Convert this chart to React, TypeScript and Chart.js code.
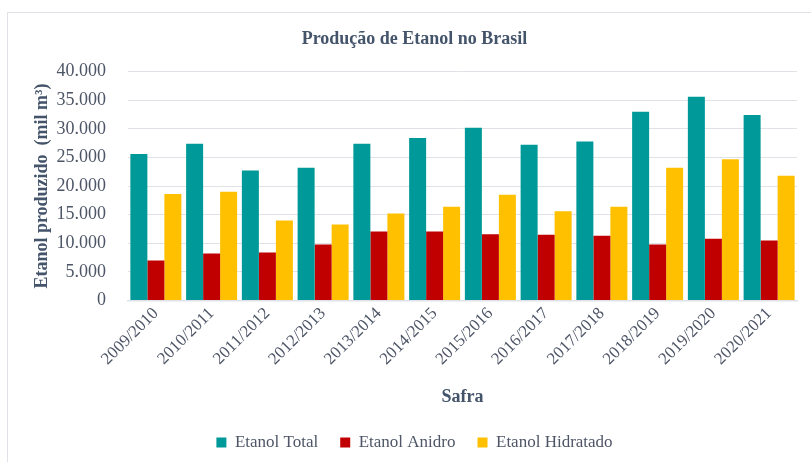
import React, { useEffect, useRef } from "react";
import { Chart, registerables } from "chart.js";

Chart.register(...registerables);

const categories = [
  "2009/2010", "2010/2011", "2011/2012", "2012/2013", "2013/2014", "2014/2015",
  "2015/2016", "2016/2017", "2017/2018", "2018/2019", "2019/2020", "2020/2021",
];
const etanolTotal = [25600, 27400, 22700, 23200, 27400, 28400, 30200, 27200, 27800, 33000, 35600, 32400];
const etanolAnidro = [7000, 8200, 8400, 9800, 12050, 12050, 11600, 11500, 11300, 9800, 10800, 10500];
const etanolHidratado = [18600, 19000, 14000, 13300, 15200, 16400, 18500, 15600, 16400, 23200, 24700, 21800];

const seriesNames = ["Etanol Total", "Etanol Anidro", "Etanol Hidratado"];
const seriesColors = ["#009999", "#C00000", "#FFC000"];

const FONT = "'Liberation Serif', 'Times New Roman', serif";
const TEXT = "#4d5566";
const TITLE = "#44546A";
const GRID = "#dfe2e7";

export default function App() {
  const ref = useRef<HTMLCanvasElement | null>(null);

  useEffect(() => {
    document.body.style.margin = "0";
    document.body.style.overflow = "hidden";
    const ctx = ref.current!;
    const chart = new Chart(ctx, {
      type: "bar",
      data: {
        labels: categories,
        datasets: [etanolTotal, etanolAnidro, etanolHidratado].map((d, i) => ({
          label: seriesNames[i],
          data: d,
          backgroundColor: seriesColors[i],
          borderWidth: 0,
          categoryPercentage: 0.915,
          barPercentage: 1,
        })),
      },
      options: {
        animation: false,
        responsive: false,
        maintainAspectRatio: false,
        layout: { padding: { left: 24, right: 33, top: 8, bottom: 4 } },
        plugins: {
          title: {
            display: true,
            text: "Produção de Etanol no Brasil",
            color: TITLE,
            font: { family: FONT, size: 18, weight: "bold" },
            padding: { top: 8, bottom: 21 },
          },
          legend: {
            position: "bottom",
            labels: {
              color: TEXT,
              font: { family: FONT, size: 17 },
              boxWidth: 10,
              boxHeight: 10,
              padding: 22,
            },
          },
          tooltip: { enabled: false },
        },
        scales: {
          x: {
            grid: { display: false },
            border: { display: true, color: GRID, width: 1.5 },
            ticks: {
              color: TEXT,
              font: { family: FONT, size: 17 },
              maxRotation: 45,
              minRotation: 45,
              padding: -5,
            },
            title: {
              display: true,
              text: "Safra",
              color: TITLE,
              font: { family: FONT, size: 18, weight: "bold" },
              padding: { top: 22, bottom: 4 },
            },
            afterFit: (scale: any) => {
              scale.paddingLeft = 0;
              scale.paddingRight = 0;
            },
          },
          y: {
            min: 0,
            max: 40000,
            grid: { color: GRID, drawTicks: false },
            border: { display: false },
            ticks: {
              stepSize: 5000,
              color: TEXT,
              font: { family: FONT, size: 18 },
              padding: 22,
              callback: (v: any) => Number(v).toLocaleString("de-DE"),
            },
            title: {
              display: true,
              text: "Etanol produzido  (mil m³)",
              color: TITLE,
              font: { family: FONT, size: 18, weight: "bold" },
              padding: { top: 0, bottom: 2 },
            },
            afterFit: (scale: any) => {
              scale.width = 96;
            },
          },
        },
      },
    });
    return () => chart.destroy();
  }, []);

  return (
    <div style={{ position: "fixed", left: 0, top: 0, width: 811, height: 462, overflow: "hidden", background: "#fff" }}>
      <div
        style={{
          position: "absolute",
          left: 7,
          top: 12,
          width: 822,
          height: 460,
          borderTop: "1px solid #dfe3e8",
          borderLeft: "1px solid #dfe3e8",
        }}
      >
        <canvas ref={ref} width={822} height={452} style={{ display: "block" }} />
      </div>
    </div>
  );
}
